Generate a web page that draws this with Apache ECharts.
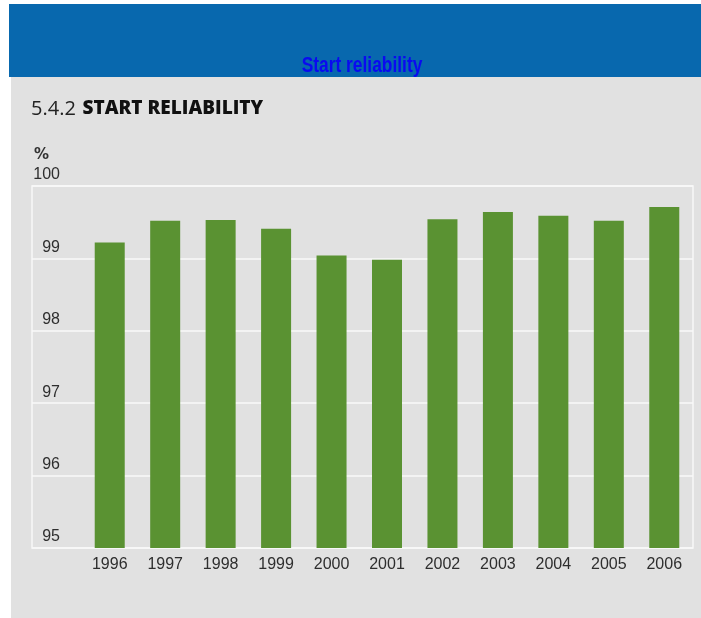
<!DOCTYPE html>
<html>
<head>
<meta charset="utf-8">
<script src="https://cdn.jsdelivr.net/npm/echarts@6/dist/echarts.min.js"></script>
<style>
  html, body { margin: 0; padding: 0; background: #ffffff; }
  #chart { width: 701px; height: 618px; }
</style>
</head>
<body>
<div id="chart"></div>
<script>
// Start reliability per year, in percent
const years = ['1996', '1997', '1998', '1999', '2000', '2001', '2002', '2003', '2004', '2005', '2006'];
const reliability = [99.22, 99.52, 99.53, 99.41, 99.04, 98.98, 99.54, 99.64, 99.59, 99.52, 99.71];
const yTicks = [95, 96, 97, 98, 99, 100];

const axisFont = '"Liberation Sans", Arial, Helvetica, sans-serif';
const chart = echarts.init(document.getElementById('chart'), null, { renderer: 'canvas' });

chart.setOption({
  animation: false,
  backgroundColor: '#ffffff',
  graphic: [
    { type: 'rect', z: 0, shape: { x: 9, y: 4, width: 692, height: 73 }, style: { fill: '#0868ae' } },
    {
      // condensed bold heading inside the blue band
      type: 'text', z: 1, x: 362, y: 77, scaleX: 0.79,
      style: {
        text: 'Start reliability', textAlign: 'center', textVerticalAlign: 'bottom',
        font: 'bold 22px "Liberation Sans Narrow", "Arial Narrow", "Liberation Sans", sans-serif',
        fill: '#0a0af0'
      }
    },
    { type: 'rect', z: 2, shape: { x: 11, y: 77, width: 690, height: 541 }, style: { fill: '#e1e1e1' } },
    {
      type: 'text', z: 3, x: 31, y: 99,
      style: {
        text: '{n|5.4.2}  {t|START RELIABILITY}',
        rich: {
          n: { font: '20px "Open Sans", "DejaVu Sans", sans-serif', fill: '#222222' },
          t: { font: '900 19px "Open Sans", "DejaVu Sans", sans-serif', fill: '#111111' }
        }
      }
    },
    {
      type: 'text', z: 3, x: 34, y: 148,
      style: { text: '%', font: 'bold 15px "DejaVu Sans", sans-serif', fill: '#333333' }
    }
  ],
  grid: [
    { left: 32, right: 8, top: 186, bottom: 70, show: true, borderColor: '#f8f8f8', borderWidth: 1.5, backgroundColor: 'transparent', z: 3 },
    { left: 82, right: 9, top: 186, bottom: 70, z: 4 }
  ],
  xAxis: [
    { type: 'value', gridIndex: 0, show: false, min: 0, max: 1 },
    {
      type: 'category', gridIndex: 1, data: years, z: 6,
      axisLine: { show: false }, axisTick: { show: false },
      axisLabel: { color: '#2e2e2e', fontSize: 16, fontFamily: axisFont, margin: 9 }
    }
  ],
  yAxis: [
    {
      type: 'value', gridIndex: 0, min: 95, max: 100, interval: 1, z: 4,
      axisLine: { show: false }, axisTick: { show: false },
      splitLine: { lineStyle: { color: '#f8f8f8', width: 1.5 } },
      axisLabel: {
        inside: true, margin: 28, align: 'right', verticalAlign: 'bottom',
        padding: [0, 0, 3, 0], color: '#2e2e2e', fontSize: 16, fontFamily: axisFont,
        formatter: function (v) { return yTicks.indexOf(v) >= 0 ? String(v) : ''; }
      }
    },
    { type: 'value', gridIndex: 1, min: 95, max: 100, interval: 1, show: false }
  ],
  series: [
    {
      type: 'bar', xAxisIndex: 1, yAxisIndex: 1, data: reliability,
      barWidth: 30, z: 5,
      itemStyle: { color: '#5a9232' }
    }
  ]
});
</script>
</body>
</html>
